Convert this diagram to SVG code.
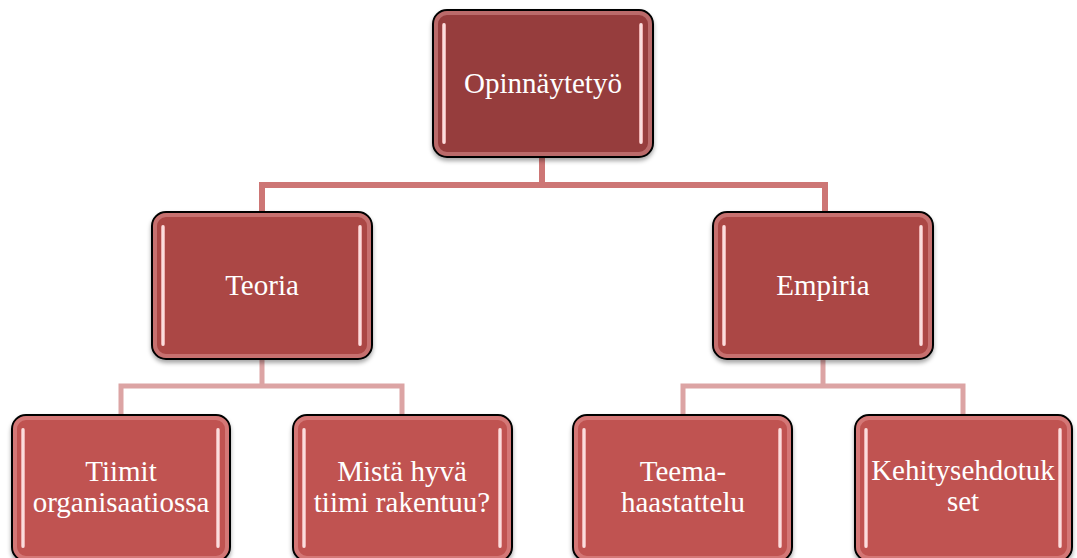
<svg xmlns="http://www.w3.org/2000/svg" width="1077" height="558" viewBox="0 0 1077 558">
<defs>
<style>
.lbl{font-family:'Liberation Serif','Times New Roman',serif;font-size:29px;fill:#ffffff;text-anchor:middle}
.box{stroke:#000;stroke-width:2}
.bevel{fill:none;stroke:#f2b0b0;stroke-opacity:0.4;stroke-width:4}
.stripe{fill:url(#sg)}
.c1{fill:none;stroke:#cd7675;stroke-width:6}
.c2{fill:none;stroke:#dca4a4;stroke-width:5}
.l0{fill:#963d3c}
.l1{fill:#ab4745}
.l2{fill:#c05351}
</style>
<linearGradient id="sg" x1="0" y1="0" x2="1" y2="0">
<stop offset="0" stop-color="#e89a9a"/>
<stop offset="0.5" stop-color="#fff4f4"/>
<stop offset="1" stop-color="#e89a9a"/>
</linearGradient>
<filter id="sh" x="-10%" y="-10%" width="120%" height="130%">
<feDropShadow dx="0" dy="3" stdDeviation="2" flood-color="#000" flood-opacity="0.35"/>
</filter>
</defs>
<rect width="1077" height="558" fill="#ffffff"/>
<g id="connectors">
<path class="c1" d="M542,157 V185 M262,212 V185 H825 V212"/>
<path class="c2" d="M262,359 V386 M121,415 V386 H402 V415"/>
<path class="c2" d="M823,359 V386 M683,415 V386 H963 V415"/>
</g>
<g id="n-opinnaytetyo">
<rect class="box l0" x="433" y="10" width="220" height="147" rx="14" filter="url(#sh)"/>
<rect class="bevel" x="436" y="13" width="214" height="141" rx="11"/>
<rect class="stripe" x="442" y="23" width="4" height="121" rx="2"/>
<rect class="stripe" x="639" y="23" width="4" height="121" rx="2"/>
<text class="lbl" x="543" y="93">Opinnäytetyö</text>
</g>
<g id="n-teoria">
<rect class="box l1" x="152" y="212" width="220" height="147" rx="14" filter="url(#sh)"/>
<rect class="bevel" x="155" y="215" width="214" height="141" rx="11"/>
<rect class="stripe" x="161" y="225" width="4" height="121" rx="2"/>
<rect class="stripe" x="358" y="225" width="4" height="121" rx="2"/>
<text class="lbl" x="262" y="295">Teoria</text>
</g>
<g id="n-empiria">
<rect class="box l1" x="713" y="212" width="220" height="147" rx="14" filter="url(#sh)"/>
<rect class="bevel" x="716" y="215" width="214" height="141" rx="11"/>
<rect class="stripe" x="722" y="225" width="4" height="121" rx="2"/>
<rect class="stripe" x="919" y="225" width="4" height="121" rx="2"/>
<text class="lbl" x="823" y="295">Empiria</text>
</g>
<g id="n-tiimit">
<rect class="box l2" x="12" y="415" width="218" height="146" rx="14" filter="url(#sh)"/>
<rect class="bevel" x="15" y="418" width="212" height="140" rx="11"/>
<rect class="stripe" x="21" y="428" width="4" height="120" rx="2"/>
<rect class="stripe" x="216" y="428" width="4" height="120" rx="2"/>
<text class="lbl" x="121" y="481">Tiimit</text>
<text class="lbl" x="121" y="512">organisaatiossa</text>
</g>
<g id="n-mista">
<rect class="box l2" x="293" y="415" width="219" height="146" rx="14" filter="url(#sh)"/>
<rect class="bevel" x="296" y="418" width="213" height="140" rx="11"/>
<rect class="stripe" x="302" y="428" width="4" height="120" rx="2"/>
<rect class="stripe" x="498" y="428" width="4" height="120" rx="2"/>
<text class="lbl" x="402" y="481">Mistä hyvä</text>
<text class="lbl" x="402" y="512">tiimi rakentuu?</text>
</g>
<g id="n-teema">
<rect class="box l2" x="573" y="415" width="219" height="146" rx="14" filter="url(#sh)"/>
<rect class="bevel" x="576" y="418" width="213" height="140" rx="11"/>
<rect class="stripe" x="582" y="428" width="4" height="120" rx="2"/>
<rect class="stripe" x="778" y="428" width="4" height="120" rx="2"/>
<text class="lbl" x="683" y="481">Teema-</text>
<text class="lbl" x="683" y="512">haastattelu</text>
</g>
<g id="n-kehitys">
<rect class="box l2" x="855" y="415" width="217" height="146" rx="14" filter="url(#sh)"/>
<rect class="bevel" x="858" y="418" width="211" height="140" rx="11"/>
<rect class="stripe" x="864" y="428" width="4" height="120" rx="2"/>
<rect class="stripe" x="1058" y="428" width="4" height="120" rx="2"/>
<text class="lbl" x="963" y="480">Kehitysehdotuk</text>
<text class="lbl" x="963" y="511">set</text>
</g>
</svg>
